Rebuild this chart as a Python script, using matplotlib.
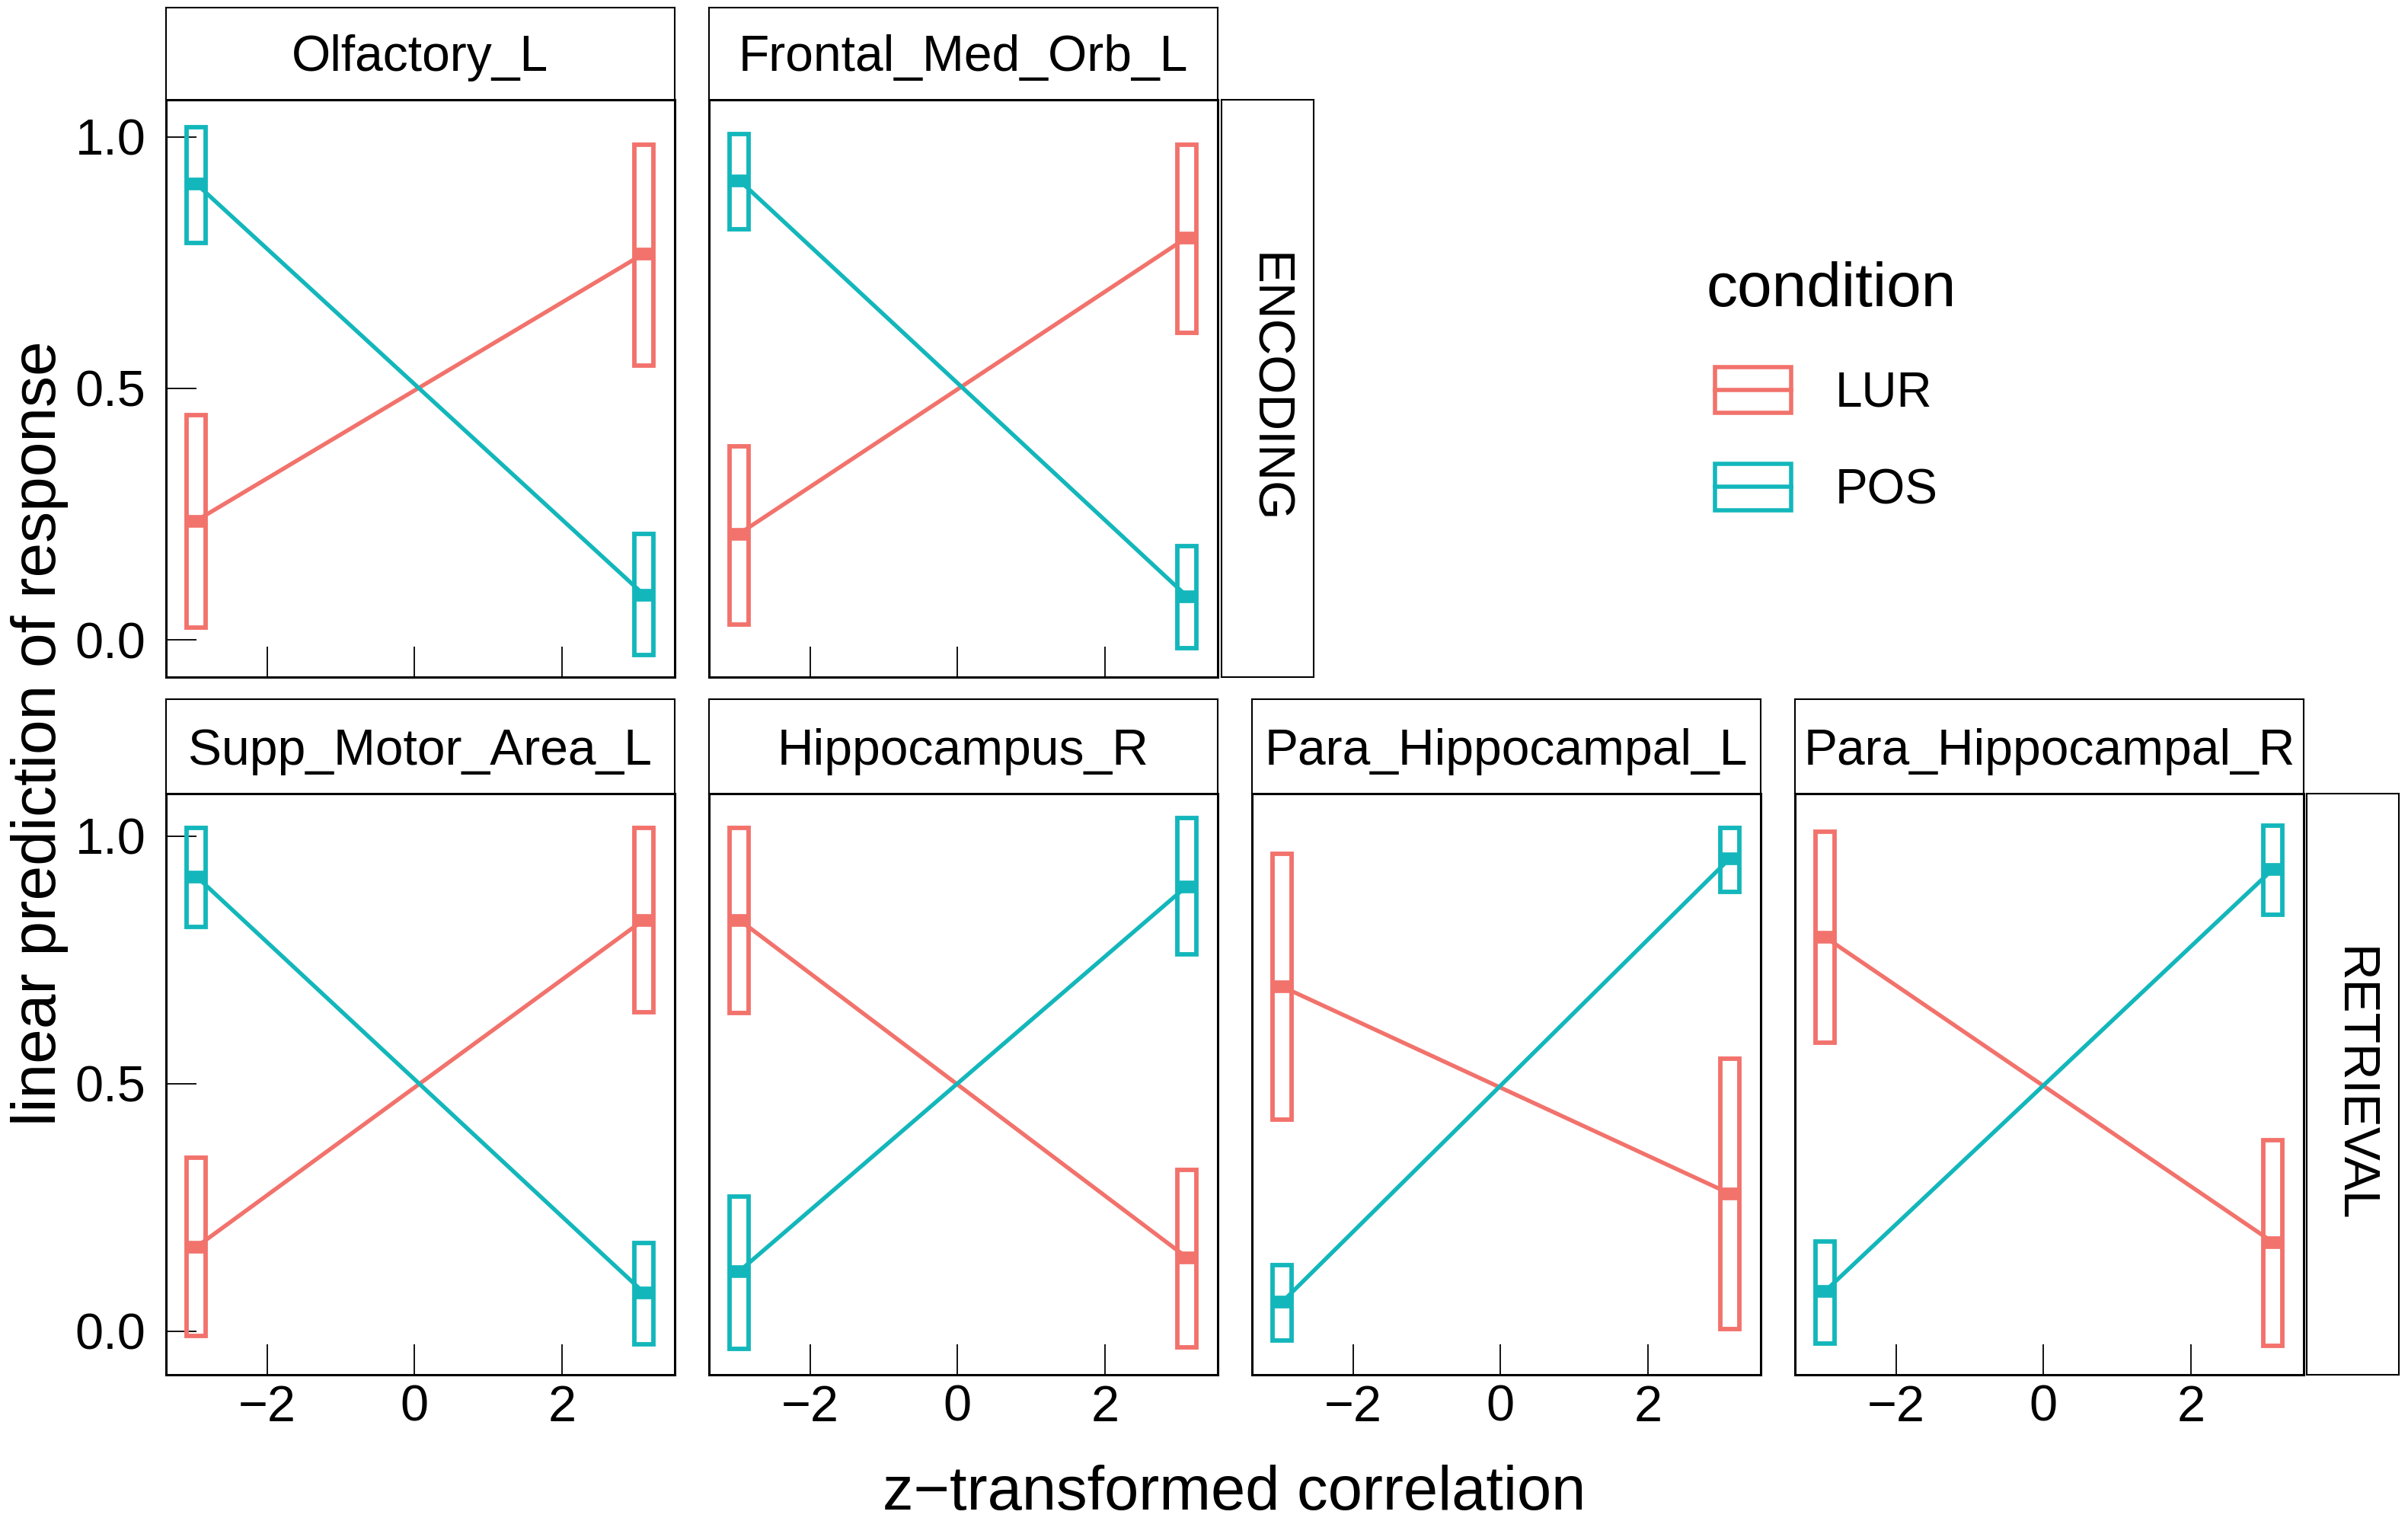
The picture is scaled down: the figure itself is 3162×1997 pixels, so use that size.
import matplotlib
matplotlib.use('Agg')
import matplotlib.pyplot as plt
from matplotlib.patches import Rectangle, Patch
from matplotlib.lines import Line2D
from matplotlib.legend_handler import HandlerBase

plt.rcParams['font.family'] = ['Liberation Sans', 'DejaVu Sans']

# ---- data ----
regions = ['Olfactory_L', 'Frontal_Med_Orb_L', 'Supp_Motor_Area_L',
           'Hippocampus_R', 'Para_Hippocampal_L', 'Para_Hippocampal_R']
phases = ['ENCODING', 'ENCODING', 'RETRIEVAL', 'RETRIEVAL', 'RETRIEVAL', 'RETRIEVAL']
z_values = [-2.96, 3.11]
conditions = ['LUR', 'POS']

lur_fit = [[0.237, 0.768], [0.211, 0.800], [0.170, 0.831],
           [0.831, 0.149], [0.696, 0.278], [0.796, 0.180]]
lur_lower = [[0.025, 0.546], [0.030, 0.611], [-0.009, 0.645],
             [0.643, -0.032], [0.428, 0.005], [0.583, -0.030]]
lur_upper = [[0.447, 0.985], [0.385, 0.985], [0.350, 1.016],
             [1.016, 0.326], [0.964, 0.550], [1.009, 0.386]]

pos_fit = [[0.907, 0.090], [0.914, 0.087], [0.919, 0.078],
           [0.121, 0.899], [0.059, 0.955], [0.081, 0.933]]
pos_lower = [[0.790, -0.030], [0.817, -0.016], [0.817, -0.027],
             [-0.036, 0.761], [-0.019, 0.888], [-0.025, 0.841]]
pos_upper = [[1.020, 0.211], [1.006, 0.187], [1.016, 0.178],
             [0.272, 1.036], [0.133, 1.016], [0.181, 1.022]]

colors = {'LUR': '#F2726C', 'POS': '#13B7BB'}

# ---- layout (pixel boxes) ----
W, H = 3162, 1997
fig = plt.figure(figsize=(W / 100, H / 100), dpi=100)


def px_axes(x0, y0, x1, y1):
    return fig.add_axes([x0 / W, 1 - y1 / H, (x1 - x0) / W, (y1 - y0) / H])


cols = [(218, 886), (931, 1599), (1644, 2312), (2357, 3025)]
rows = {'ENCODING': dict(strip=(10, 131), panel=(131, 889), ylim=(-0.074, 1.074),
                         side=(1604, 1725)),
        'RETRIEVAL': dict(strip=(918, 1042), panel=(1042, 1805), ylim=(-0.088, 1.086),
                          side=(3029, 3150))}
panel_pos = [('ENCODING', 0), ('ENCODING', 1), ('RETRIEVAL', 0),
             ('RETRIEVAL', 1), ('RETRIEVAL', 2), ('RETRIEVAL', 3)]

hw = 0.13  # half width of the CI boxes (data units)


def strip_axes(x0, y0, x1, y1):
    s = px_axes(x0, y0, x1, y1)
    s.set_xticks([])
    s.set_yticks([])
    for sp in s.spines.values():
        sp.set_linewidth(1.5)
    return s


for i, reg in enumerate(regions):
    row_name, c = panel_pos[i]
    row = rows[row_name]
    x0, x1 = cols[c]
    ax = px_axes(x0, row['panel'][0], x1, row['panel'][1])
    ax.set_xlim(-3.37, 3.53)
    ax.set_ylim(*row['ylim'])

    for cond, fit, lo, hi in [('LUR', lur_fit[i], lur_lower[i], lur_upper[i]),
                              ('POS', pos_fit[i], pos_lower[i], pos_upper[i])]:
        col = colors[cond]
        ax.plot(z_values, fit, color=col, lw=3.9, zorder=2)
        for z, f, l, h in zip(z_values, fit, lo, hi):
            ax.add_patch(Rectangle((z - hw, l), 2 * hw, h - l, fill=False,
                                   edgecolor=col, lw=4.2, zorder=3))
            ax.plot([z - hw, z + hw], [f, f], color=col, lw=12,
                    solid_capstyle='butt', zorder=3)

    ax.set_xticks([-2, 0, 2])
    ax.set_yticks([0.0, 0.5, 1.0])
    ax.set_yticklabels(['0.0', '0.5', '1.0'])
    ax.tick_params(axis='both', direction='in', length=29, width=1.3,
                   labelsize=48, colors='black')
    ax.tick_params(axis='y', pad=19)
    ax.tick_params(axis='x', pad=9)
    if row_name == 'ENCODING':
        ax.tick_params(axis='x', labelbottom=False)
    if c != 0:
        ax.tick_params(axis='y', left=False, labelleft=False)
    for sp in ax.spines.values():
        sp.set_linewidth(2.2)

    s = strip_axes(x0, row['strip'][0], x1, row['strip'][1])
    s.text(0.5, 0.31, reg, ha='center', va='baseline', fontsize=47.5,
           transform=s.transAxes)

# side strips for the phase
for name, row in rows.items():
    s = strip_axes(row['side'][0], row['panel'][0], row['side'][1], row['panel'][1])
    s.text(0.5, 0.5, name, ha='center', va='center', rotation=-90,
           fontsize=47.5, transform=s.transAxes)

fig.text(52 / W, 1 - 963 / H, 'linear prediction of response', rotation=90,
         ha='center', va='center', fontsize=59)
fig.text(1621 / W, 1 - 1982 / H, 'z\u2212transformed correlation',
         ha='center', va='baseline', fontsize=58.5)


# legend keys: box with a line through the middle
class BoxHandler(HandlerBase):
    def create_artists(self, legend, orig_handle, xdescent, ydescent,
                       width, height, fontsize, trans):
        col = orig_handle.get_edgecolor()
        boxw = 1.56 * fontsize
        left = -xdescent + width - boxw
        r = Rectangle((left, -ydescent), boxw, height, fill=False,
                      edgecolor=col, lw=4.0, transform=trans)
        m = Line2D([left, left + boxw], [-ydescent + height / 2] * 2,
                   color=col, lw=4.0, transform=trans)
        return [r, m]


handles = [Patch(edgecolor=colors[c], facecolor='none') for c in conditions]
fig.legend(handles, conditions, title='condition', loc='upper left',
           bbox_to_anchor=(2240 / W, 1 - 343 / H), frameon=False,
           fontsize=46, title_fontsize=59, alignment='left',
           handler_map={Patch: BoxHandler()},
           handlelength=1.75, handleheight=1.08, handletextpad=0.9,
           labelspacing=0.98, borderpad=0, borderaxespad=0)

fig.savefig('out.png', dpi=100, facecolor='white')
